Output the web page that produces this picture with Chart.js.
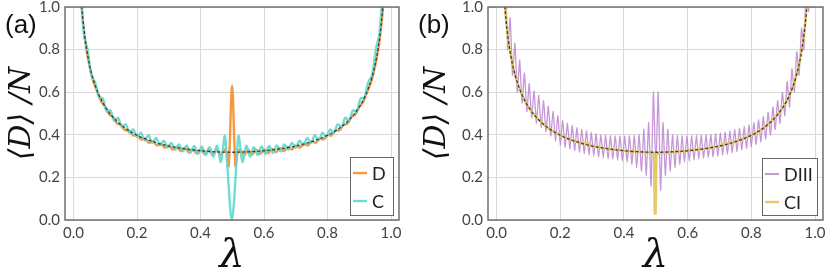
<!DOCTYPE html>
<html>
<head>
<meta charset="utf-8">
<script src="https://cdn.jsdelivr.net/npm/chart.js@4.4.1/dist/chart.umd.min.js"></script>
<style>
  html, body { margin: 0; padding: 0; background: #fff; }
  #wrap { position: relative; width: 830px; height: 277px; }
  .panel { position: absolute; top: 0; width: 415px; height: 277px; }
</style>
</head>
<body>
<div id="wrap">
  <div class="panel" style="left:0"><canvas id="chartA" width="415" height="277"></canvas></div>
  <div class="panel" style="left:415px"><canvas id="chartB" width="415" height="277"></canvas></div>
</div>
<script>
// tick labels
const xTicks = [0, 0.2, 0.4, 0.6, 0.8, 1.0];
const yTicks = [0, 0.2, 0.4, 0.6, 0.8, 1.0];

// dashed reference curve (same in both panels)
const lamTheory = [0.015, 0.02, 0.025, 0.03, 0.035, 0.04, 0.045, 0.05, 0.06, 0.07, 0.08, 0.09, 0.10, 0.12, 0.14, 0.16, 0.18, 0.20, 0.22, 0.25, 0.28, 0.30, 0.35, 0.40, 0.45,
  0.50,
  0.55, 0.60, 0.65, 0.70, 0.72, 0.75, 0.78, 0.80, 0.82, 0.84, 0.86, 0.88, 0.90, 0.91, 0.92, 0.93, 0.94, 0.95, 0.955, 0.96, 0.965, 0.97, 0.975, 0.98, 0.985];
const dTheory = [1.309, 1.137, 1.019, 0.933, 0.866, 0.812, 0.768, 0.730, 0.670, 0.624, 0.587, 0.556, 0.531, 0.490, 0.459, 0.434, 0.414, 0.398, 0.384, 0.368, 0.354, 0.347, 0.334, 0.325, 0.320,
  0.318,
  0.320, 0.325, 0.334, 0.347, 0.354, 0.368, 0.384, 0.398, 0.414, 0.434, 0.459, 0.490, 0.531, 0.556, 0.587, 0.624, 0.670, 0.730, 0.768, 0.812, 0.866, 0.933, 1.019, 1.137, 1.309];

// panel (a): D
const lamD = [0.0125, 0.025, 0.0375, 0.05, 0.0625, 0.075, 0.0875, 0.1, 0.1125, 0.125, 0.1375, 0.15, 0.1625, 0.175, 0.1875, 0.2, 0.2125, 0.225, 0.2375, 0.25,
  0.2625, 0.275, 0.2875, 0.3, 0.3125, 0.325, 0.3375, 0.35, 0.3625, 0.375, 0.3875, 0.4, 0.4125, 0.425, 0.4375, 0.45, 0.4625, 0.475,
  0.4825, 0.4887, 0.4992, 0.5097, 0.516,
  0.525, 0.5375, 0.55, 0.5625, 0.575, 0.5875, 0.6, 0.6125, 0.625, 0.6375, 0.65, 0.6625, 0.675, 0.6875, 0.7, 0.7125, 0.725, 0.7375, 0.75,
  0.7625, 0.775, 0.7875, 0.8, 0.8125, 0.825, 0.8375, 0.85, 0.8625, 0.875, 0.8875, 0.9, 0.9125, 0.925, 0.9375, 0.95, 0.9625, 0.975, 0.9875];
const dD = [1.43, 1.01, 0.83, 0.725, 0.648, 0.603, 0.555, 0.530, 0.495, 0.482, 0.452, 0.446, 0.421, 0.420, 0.397, 0.399, 0.378, 0.383, 0.362, 0.370,
  0.350, 0.358, 0.340, 0.350, 0.331, 0.343, 0.324, 0.338, 0.318, 0.334, 0.313, 0.332, 0.310, 0.330, 0.307, 0.330, 0.305, 0.330,
  0.310, 0.254, 0.632, 0.254, 0.310,
  0.330, 0.305, 0.330, 0.307, 0.330, 0.310, 0.332, 0.313, 0.334, 0.318, 0.338, 0.324, 0.343, 0.331, 0.350, 0.340, 0.358, 0.350, 0.370,
  0.362, 0.383, 0.378, 0.399, 0.397, 0.420, 0.421, 0.446, 0.452, 0.482, 0.495, 0.530, 0.555, 0.603, 0.648, 0.725, 0.83, 1.01, 1.43];

// panel (a): C
const lamC = [0.02, 0.032, 0.044, 0.056, 0.068, 0.08, 0.092, 0.104, 0.116, 0.128, 0.14, 0.152, 0.164, 0.176, 0.188, 0.2, 0.212, 0.224, 0.236, 0.248,
  0.26, 0.272, 0.284, 0.296, 0.308, 0.32, 0.332, 0.344, 0.356, 0.368, 0.38, 0.392, 0.404, 0.416, 0.428, 0.44, 0.452, 0.464, 0.476,
  0.482, 0.488, 0.493, 0.4985, 0.504, 0.509, 0.514,
  0.52, 0.532, 0.544, 0.556, 0.568, 0.58, 0.592, 0.604, 0.616, 0.628, 0.64, 0.652, 0.664, 0.676, 0.688, 0.7, 0.712, 0.724, 0.736, 0.748,
  0.76, 0.772, 0.784, 0.796, 0.808, 0.82, 0.832, 0.844, 0.856, 0.868, 0.88, 0.892, 0.904, 0.916, 0.928, 0.94, 0.952, 0.964, 0.976];
const dC = [1.17, 0.88, 0.80, 0.68, 0.645, 0.575, 0.57, 0.51, 0.515, 0.465, 0.48, 0.435, 0.45, 0.41, 0.425, 0.39, 0.41, 0.374, 0.398, 0.362,
  0.385, 0.35, 0.372, 0.34, 0.362, 0.33, 0.355, 0.322, 0.35, 0.315, 0.348, 0.31, 0.345, 0.305, 0.342, 0.298, 0.348, 0.273, 0.395,
  0.30, 0.17, 0.06, 0.0, 0.06, 0.17, 0.30,
  0.395, 0.273, 0.348, 0.298, 0.342, 0.305, 0.345, 0.31, 0.348, 0.315, 0.35, 0.322, 0.355, 0.33, 0.362, 0.34, 0.372, 0.35, 0.385, 0.362,
  0.398, 0.374, 0.41, 0.39, 0.425, 0.41, 0.45, 0.435, 0.48, 0.465, 0.515, 0.51, 0.57, 0.575, 0.645, 0.68, 0.80, 0.88, 1.17];

// panel (b): DIII
const lamDIII = [0.0125, 0.02, 0.0275, 0.035, 0.0425, 0.05, 0.0575, 0.065, 0.0725, 0.08, 0.0875, 0.095, 0.1025, 0.11, 0.1175, 0.125, 0.1325, 0.14, 0.1475, 0.155,
  0.1625, 0.17, 0.1775, 0.185, 0.1925, 0.2, 0.2075, 0.215, 0.2225, 0.23, 0.2375, 0.245, 0.2525, 0.26, 0.2675, 0.275, 0.2825, 0.29, 0.2975, 0.305,
  0.3125, 0.32, 0.3275, 0.335, 0.3425, 0.35, 0.3575, 0.365, 0.3725, 0.38, 0.3875, 0.395, 0.4025, 0.41, 0.4175, 0.425, 0.4325, 0.44, 0.4475, 0.455,
  0.4625, 0.47, 0.4775, 0.485, 0.4925, 0.5, 0.5075, 0.515, 0.5225, 0.53, 0.5375, 0.545, 0.5525, 0.56, 0.5675, 0.575, 0.5825, 0.59, 0.5975, 0.605,
  0.6125, 0.62, 0.6275, 0.635, 0.6425, 0.65, 0.6575, 0.665, 0.6725, 0.68, 0.6875, 0.695, 0.7025, 0.71, 0.7175, 0.725, 0.7325, 0.74, 0.7475, 0.755,
  0.7625, 0.77, 0.7775, 0.785, 0.7925, 0.8, 0.8075, 0.815, 0.8225, 0.83, 0.8375, 0.845, 0.8525, 0.86, 0.8675, 0.875, 0.8825, 0.89, 0.8975, 0.905,
  0.9125, 0.92, 0.9275, 0.935, 0.9425, 0.95, 0.9575, 0.965, 0.9725, 0.98, 0.9875];
const dDIII = [1.5, 1.1, 1.15, 0.80, 0.95, 0.68, 0.83, 0.60, 0.75, 0.55, 0.69, 0.51, 0.64, 0.48, 0.605, 0.455, 0.585, 0.435, 0.56, 0.415,
  0.535, 0.395, 0.51, 0.372, 0.49, 0.352, 0.468, 0.342, 0.455, 0.334, 0.444, 0.326, 0.434, 0.319, 0.425, 0.313, 0.418, 0.307, 0.41, 0.302,
  0.405, 0.297, 0.40, 0.292, 0.398, 0.288, 0.396, 0.284, 0.395, 0.28, 0.394, 0.276, 0.394, 0.27, 0.395, 0.26, 0.397, 0.247, 0.40, 0.23,
  0.426, 0.21, 0.457, 0.16, 0.60, 0.25, 0.60, 0.14, 0.457, 0.21, 0.426, 0.23, 0.40, 0.247, 0.397, 0.26, 0.395, 0.27, 0.395, 0.275,
  0.396, 0.28, 0.397, 0.285, 0.398, 0.29, 0.40, 0.293, 0.402, 0.296, 0.405, 0.30, 0.408, 0.305, 0.412, 0.31, 0.418, 0.316, 0.424, 0.322,
  0.43, 0.33, 0.438, 0.337, 0.447, 0.345, 0.457, 0.355, 0.47, 0.367, 0.485, 0.38, 0.505, 0.40, 0.53, 0.425, 0.56, 0.455, 0.60, 0.49,
  0.65, 0.53, 0.71, 0.60, 0.79, 0.68, 0.90, 0.80, 1.1, 0.98, 1.5];

// panel (b): CI
const lamCI = [0.015, 0.02, 0.025, 0.03, 0.035, 0.04, 0.05, 0.06, 0.07, 0.08, 0.09, 0.1, 0.12, 0.14, 0.16, 0.18, 0.2, 0.22, 0.25, 0.27, 0.285, 0.3, 0.35, 0.4, 0.45, 0.48,
  0.494, 0.4965, 0.4995, 0.502,
  0.52, 0.55, 0.6, 0.65, 0.7, 0.715, 0.73, 0.75, 0.78, 0.8, 0.82, 0.84, 0.86, 0.88, 0.9, 0.91, 0.92, 0.93, 0.94, 0.95, 0.96, 0.965, 0.97, 0.975, 0.98, 0.985];
const dCI = [1.31, 1.14, 1.02, 0.935, 0.866, 0.812, 0.73, 0.67, 0.624, 0.587, 0.556, 0.531, 0.49, 0.459, 0.434, 0.414, 0.398, 0.384, 0.368, 0.358, 0.362, 0.347, 0.334, 0.325, 0.32, 0.316,
  0.313, 0.03, 0.03, 0.31,
  0.316, 0.32, 0.325, 0.334, 0.347, 0.362, 0.358, 0.368, 0.384, 0.398, 0.414, 0.434, 0.459, 0.49, 0.531, 0.556, 0.587, 0.624, 0.67, 0.73, 0.812, 0.866, 0.935, 1.02, 1.14, 1.31];

const seriesA = ['D', 'C'];
const seriesB = ['DIII', 'CI'];

function pts(lam, vals) {
  return lam.map((x, i) => ({ x: x, y: vals[i] }));
}

const theoryStyle = {
  label: 'theory', data: pts(lamTheory, dTheory),
  borderColor: 'rgba(45,45,45,0.9)', borderWidth: 1.3, borderDash: [3, 2],
  cubicInterpolationMode: 'monotone'
};

// frame, panel letter and legend box
const framePlugin = {
  id: 'frame',
  afterDraw(chart, args, o) {
    const ctx = chart.ctx;
    const a = chart.chartArea;
    ctx.save();
    ctx.strokeStyle = '#666';
    ctx.lineWidth = 1.4;
    ctx.strokeRect(a.left, a.top, a.right - a.left, a.bottom - a.top);

    ctx.fillStyle = '#111';
    ctx.font = '26px "Liberation Sans"';
    ctx.textBaseline = 'alphabetic';
    ctx.textAlign = 'left';
    ctx.fillText(o.letter, o.letterX, 33);

    const b = o.box;
    ctx.fillStyle = '#fff';
    ctx.fillRect(b.x, b.y, b.w, b.h);
    ctx.strokeStyle = '#666';
    ctx.lineWidth = 1;
    ctx.strokeRect(b.x + 0.5, b.y + 0.5, b.w, b.h);
    o.names.forEach((name, i) => {
      const ds = chart.data.datasets.find(d => d.label === name);
      const y = b.y + 16 + i * 28;
      ctx.strokeStyle = ds.borderColor;
      ctx.lineWidth = Math.max(ds.borderWidth, 2);
      ctx.beginPath();
      ctx.moveTo(b.x + 3, y);
      ctx.lineTo(b.x + 17, y);
      ctx.stroke();
      ctx.fillStyle = '#222';
      ctx.font = '18px Lato';
      ctx.textBaseline = 'middle';
      ctx.fillText(name, b.x + 22, y + 1);
    });
    ctx.restore();
  }
};

function makePanel(id, datasets, yWidth, rightPad, frameOpts) {
  return new Chart(document.getElementById(id), {
    type: 'line',
    data: { datasets: datasets },
    plugins: [framePlugin],
    options: {
      responsive: false,
      animation: false,
      devicePixelRatio: 1,
      layout: { padding: { left: 0, right: rightPad, top: 0, bottom: 0 } },
      elements: { point: { radius: 0 }, line: { fill: false, borderJoinStyle: 'round' } },
      plugins: { legend: { display: false }, tooltip: { enabled: false }, frame: frameOpts },
      scales: {
        x: {
          type: 'linear', min: -0.027, max: 1.025,
          afterBuildTicks: s => { s.ticks = xTicks.map(v => ({ value: v })); },
          afterFit: s => { s.height = 57; s.paddingLeft = 0; s.paddingRight = 0; },
          grid: { color: '#dadada', drawTicks: false },
          border: { display: false },
          ticks: {
            padding: 4, color: '#444', maxRotation: 0, autoSkip: false,
            font: { family: 'Lato', size: 15 },
            callback: v => v.toFixed(1)
          },
          title: {
            display: true, text: 'λ', color: '#111', padding: { top: 0, bottom: 0 },
            font: { family: 'DejaVu Serif', style: 'italic', size: 40, lineHeight: 1.0 }
          }
        },
        y: {
          min: 0, max: 1,
          afterBuildTicks: s => { s.ticks = yTicks.map(v => ({ value: v })); },
          afterFit: s => { s.width = yWidth; s.paddingTop = 7; s.paddingBottom = 0; },
          grid: { color: '#dadada', drawTicks: false },
          border: { display: false },
          ticks: {
            padding: 5, color: '#444',
            font: { family: 'Lato', size: 15 },
            callback: v => v.toFixed(1)
          },
          title: {
            display: true, text: '⟨D⟩ /N', color: '#111', padding: { top: 4, bottom: 0 },
            font: { family: 'DejaVu Serif', style: 'italic', size: 30, lineHeight: 1.2 }
          }
        }
      }
    }
  });
}

makePanel('chartA', [
  theoryStyle,
  { label: 'C', data: pts(lamC, dC), borderColor: 'rgba(95,215,208,0.9)', borderWidth: 2.4, tension: 0.35 },
  { label: 'D', data: pts(lamD, dD), borderColor: 'rgba(244,146,52,0.95)', borderWidth: 2.4, tension: 0.3 }
], 65, 16, { letter: '(a)', letterX: 5, names: seriesA, box: { x: 350, y: 157, w: 43, h: 58 } });

makePanel('chartB', [
  Object.assign({}, theoryStyle),
  { label: 'CI', data: pts(lamCI, dCI), borderColor: 'rgba(228,200,95,0.95)', borderWidth: 2.4, tension: 0 },
  { label: 'DIII', data: pts(lamDIII, dDIII), borderColor: 'rgba(185,125,205,0.8)', borderWidth: 1.3, tension: 0.15 }
], 73, 7, { letter: '(b)', letterX: 3, names: seriesB, box: { x: 347, y: 158, w: 55, h: 57 } });
</script>
</body>
</html>
